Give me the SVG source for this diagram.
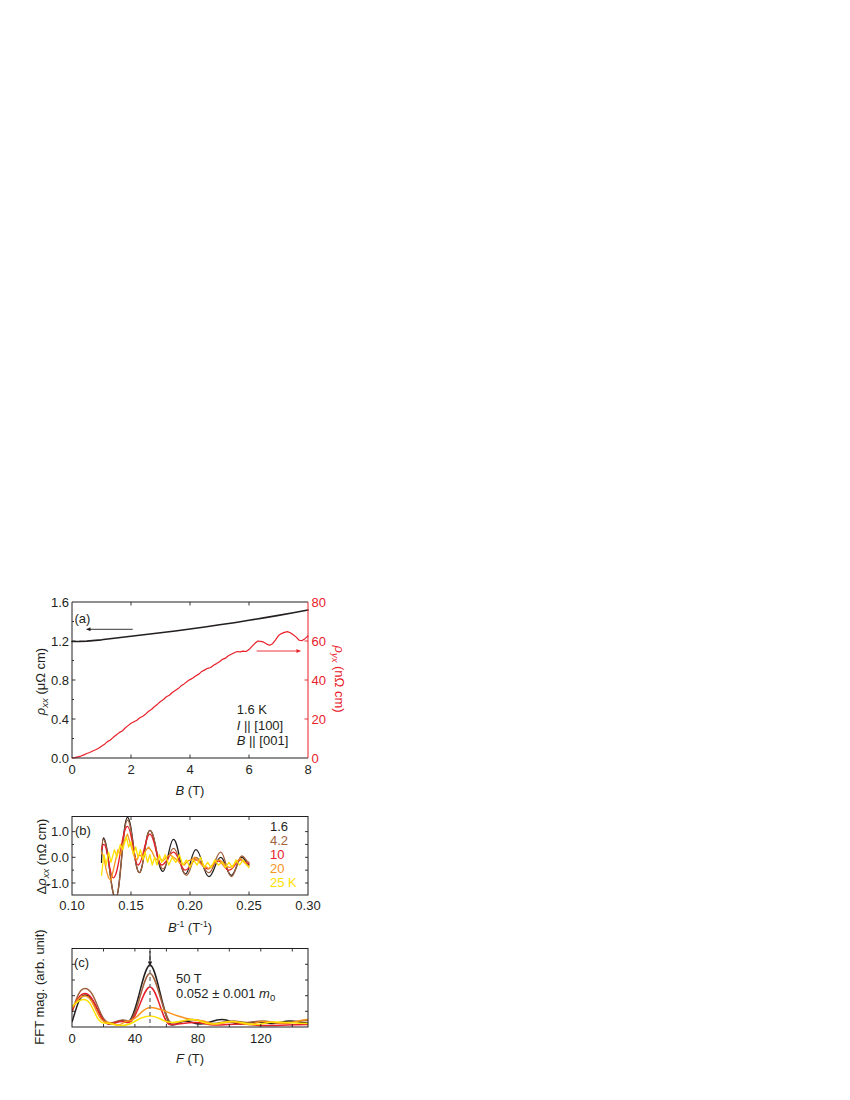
<svg xmlns="http://www.w3.org/2000/svg" width="850" height="1100" viewBox="0 0 850 1100">
<style>
text{font-family:"Liberation Sans",Arial,sans-serif;font-size:13px;fill:#231f20}
.red{fill:#e8202a}
.ax{fill:none;stroke:#231f20;stroke-width:1}
.axr{fill:none;stroke:#e8202a;stroke-width:1}
.tk{fill:none;stroke:#231f20;stroke-width:0.9}
.tkr{fill:none;stroke:#e8202a;stroke-width:0.9}
.d{fill:none;stroke-linejoin:round;stroke-linecap:round;vector-effect:non-scaling-stroke}
.c{fill:none;stroke-width:1.5;stroke-linejoin:round}
.it{font-style:italic}
.mid{text-anchor:middle}
.end{text-anchor:end}
</style>
<defs>
<marker id="ahk" viewBox="0 0 10 10" refX="10" refY="5" markerWidth="7" markerHeight="4" markerUnits="userSpaceOnUse" orient="auto"><path d="M0,0L10,5L0,10z" fill="#231f20"/></marker>
<marker id="ahr" viewBox="0 0 10 10" refX="10" refY="5" markerWidth="7" markerHeight="4" markerUnits="userSpaceOnUse" orient="auto"><path d="M0,0L10,5L0,10z" fill="#e8202a"/></marker>
<marker id="ahs" viewBox="0 0 10 10" refX="10" refY="5" markerWidth="6" markerHeight="4.5" markerUnits="userSpaceOnUse" orient="auto"><path d="M0,0L10,5L0,10z" fill="#231f20"/></marker>
<clipPath id="clipb"><rect x="72" y="816.5" width="236" height="78.5"/></clipPath>
<clipPath id="clipc"><rect x="72" y="948.5" width="236" height="78.5"/></clipPath>
</defs>

<g id="panel-a">
<g id="a-curves">
<polyline class="d" stroke="#231f20" stroke-width="1.6" transform="matrix(29.5 0 0 -97.5 72 758)" points="0,1.195 0.25,1.196 0.5,1.199 1,1.212 1.5,1.230 2,1.249 2.5,1.266 3,1.285 3.5,1.303 4,1.323 4.5,1.344 5,1.366 5.5,1.388 6,1.412 6.5,1.437 7,1.463 7.5,1.490 8,1.518"/>
<polyline class="d" stroke="#e8202a" stroke-width="1.2" transform="matrix(29.5 0 0 -1.95 72 758)" points="0,0 0.1,0.2 0.2,0.6 0.3,1.0 0.4,1.6 0.5,2.3 0.6,2.8 0.7,3.6 0.8,4.2 0.9,5.0 1.0,6.0 1.1,7.0 1.2,8.4 1.3,9.2 1.4,10.6 1.5,11.8 1.6,13.0 1.7,13.8 1.8,15.4 1.9,16.6 2.0,17.8 2.1,18.6 2.2,19.4 2.3,20.6 2.4,21.4 2.5,22.6 2.6,24.0 2.7,25.0 2.8,26.4 2.9,27.6 3.0,29.0 3.1,30.0 3.2,31.4 3.3,32.2 3.4,33.6 3.5,34.6 3.6,35.6 3.7,37.0 3.8,38.0 3.9,39.2 4.0,40.2 4.1,41.0 4.2,42.2 4.3,43.0 4.4,44.4 4.5,45.2 4.6,46.0 4.7,46.4 4.8,47.6 4.9,48.4 5.0,49.4 5.1,50.6 5.2,51.2 5.3,52.4 5.4,53.2 5.5,54.0 5.6,54.6 5.7,54.4 5.8,54.8 5.9,54.6 6.0,55.6 6.1,57.2 6.2,58.8 6.3,60.0 6.4,59.8 6.5,59.4 6.6,58.4 6.7,57.8 6.8,58.6 6.9,60.6 7.0,62.8 7.1,63.8 7.2,64.4 7.3,64.8 7.4,64.2 7.5,63.2 7.6,62.0 7.7,60.4 7.8,60.2 7.9,61.2 8.0,62.6"/>
</g>
<g id="a-axes">
<path class="ax" d="M308,602H72V758H308"/>
<path class="axr" d="M308,602V758"/>
<path class="tk" d="M72,719h3.5M72,680h3.5M72,641h3.5M72,738.5h2M72,699.5h2M72,660.5h2M72,621.5h2M131,758v-3.5M190,758v-3.5M249,758v-3.5M131,602v3.5M190,602v3.5M249,602v3.5"/>
<path class="tkr" d="M308,719h-3.5M308,680h-3.5M308,641h-3.5"/>
</g>
<g id="a-arrows">
<line x1="132.7" y1="629.3" x2="86.5" y2="629.3" stroke="#231f20" stroke-width="0.9" marker-end="url(#ahk)"/>
<line x1="256.7" y1="651" x2="300.5" y2="651" stroke="#e8202a" stroke-width="0.9" marker-end="url(#ahr)"/>
</g>
<g id="a-labels">
<text class="end" x="69" y="762.7">0.0</text>
<text class="end" x="69" y="723.7">0.4</text>
<text class="end" x="69" y="684.7">0.8</text>
<text class="end" x="69" y="645.7">1.2</text>
<text class="end" x="69" y="606.7">1.6</text>
<text class="red" x="311.5" y="762.7">0</text>
<text class="red" x="311.5" y="723.7">20</text>
<text class="red" x="311.5" y="684.7">40</text>
<text class="red" x="311.5" y="645.7">60</text>
<text class="red" x="311.5" y="606.7">80</text>
<text class="mid" x="72" y="774.3">0</text>
<text class="mid" x="131" y="774.3">2</text>
<text class="mid" x="190" y="774.3">4</text>
<text class="mid" x="249" y="774.3">6</text>
<text class="mid" x="308" y="774.3">8</text>
<text class="mid" x="190" y="794.5"><tspan class="it">B</tspan> (T)</text>
<text class="mid" transform="translate(44.5 681.5) rotate(-90)"><tspan class="it">ρ</tspan><tspan class="it" font-size="9.5" dy="3">xx</tspan><tspan dy="-3"> (μΩ cm)</tspan></text>
<text class="mid red" transform="translate(335 679) rotate(90)"><tspan class="it">ρ</tspan><tspan class="it" font-size="9.5" dy="3">yx</tspan><tspan dy="-3"> (nΩ cm)</tspan></text>
<text x="74.5" y="622.5">(a)</text>
<text x="236.7" y="714">1.6 K</text>
<text x="236.7" y="729.5"><tspan class="it">I</tspan> || [100]</text>
<text x="236.7" y="744.8"><tspan class="it">B</tspan> || [001]</text>
</g>
</g>

<g id="panel-b">
<g id="b-curves" clip-path="url(#clipb)">
<g transform="matrix(1180 0 0 -25.7 -46 857.3)">
<path class="d" stroke="#231f20" stroke-width="1.3" d="M0.125,-0.2C0.1255,0.4 0.1259,0.75 0.1265,0.75C0.1307,0.75 0.1328,-1.6 0.137,-1.6C0.141,-1.6 0.143,1.55 0.147,1.55C0.151,1.55 0.153,-0.6 0.157,-0.6C0.1606,-0.6 0.1624,1.05 0.166,1.05C0.1704,1.05 0.1726,-0.55 0.177,-0.55C0.1806,-0.55 0.1824,0.7 0.186,0.7C0.19,0.7 0.192,-0.65 0.196,-0.65C0.1996,-0.65 0.2014,0.3 0.205,0.3C0.2094,0.3 0.2116,-0.75 0.216,-0.75C0.22,-0.75 0.222,0 0.226,0C0.2296,0 0.2314,-0.7 0.235,-0.7C0.2386,-0.7 0.2404,0 0.244,0C0.2464,0 0.2476,-0.3 0.25,-0.3"/>
<path class="d" stroke="#a0603c" stroke-width="1.3" d="M0.125,0.2C0.1255,0.5 0.1259,0.7 0.1265,0.7C0.1307,0.7 0.1328,-1.6 0.137,-1.6C0.141,-1.6 0.143,1.45 0.147,1.45C0.151,1.45 0.153,-0.6 0.157,-0.6C0.1606,-0.6 0.1624,1.05 0.166,1.05C0.1704,1.05 0.1726,-0.45 0.177,-0.45C0.1806,-0.45 0.1824,0.35 0.186,0.35C0.1904,0.35 0.1926,-0.7 0.197,-0.7C0.2002,-0.7 0.2018,0 0.205,0C0.2094,0 0.2116,-0.6 0.216,-0.6C0.22,-0.6 0.222,0.2 0.226,0.2C0.2296,0.2 0.2314,-0.75 0.235,-0.75C0.2386,-0.75 0.2404,0.05 0.244,0.05C0.2464,0.05 0.2476,-0.2 0.25,-0.2"/>
<path class="d" stroke="#e8202a" stroke-width="1.3" d="M0.125,0.3C0.1258,0.45 0.1262,0.5 0.127,0.5C0.1302,0.5 0.1318,-0.8 0.135,-0.8C0.1398,-0.8 0.1422,1.2 0.147,1.2C0.1506,1.2 0.1524,-0.3 0.156,-0.3C0.16,-0.3 0.162,0.9 0.166,0.9C0.17,0.9 0.172,-0.3 0.176,-0.3C0.18,-0.3 0.182,0.2 0.186,0.2C0.19,0.2 0.192,-0.5 0.196,-0.5C0.1996,-0.5 0.2014,-0.1 0.205,-0.1C0.209,-0.1 0.211,-0.45 0.215,-0.45C0.2186,-0.45 0.2204,-0.15 0.224,-0.15C0.2276,-0.15 0.2294,-0.5 0.233,-0.5C0.237,-0.5 0.239,-0.1 0.243,-0.1C0.2458,-0.1 0.2472,-0.25 0.25,-0.25"/>
<polyline class="d" stroke="#f7941d" stroke-width="1.3" points="0.125,0.2 0.127,0.0 0.129,-0.5 0.131,-0.8 0.133,-0.9 0.135,-0.5 0.137,-0.1 0.139,0.3 0.141,0.1 0.143,0.5 0.145,0.7 0.147,0.9 0.149,0.6 0.151,0.3 0.153,0.0 0.155,-0.1 0.157,0.1 0.160,0.0 0.163,0.3 0.165,0.4 0.168,0.2 0.171,-0.1 0.174,0.0 0.177,-0.15 0.180,0.0 0.183,0.1 0.186,0.0 0.189,-0.1 0.192,-0.25 0.195,-0.3 0.198,-0.15 0.201,-0.1 0.204,0.0 0.207,-0.15 0.210,-0.3 0.213,-0.35 0.216,-0.45 0.219,-0.3 0.222,-0.15 0.225,-0.1 0.228,-0.2 0.231,-0.35 0.234,-0.4 0.237,-0.3 0.240,-0.15 0.243,-0.05 0.246,-0.2 0.250,-0.35"/>
<polyline class="d" stroke="#ffe100" stroke-width="1.3" points="0.125,-0.7 0.127,0.1 0.129,-0.3 0.131,0.2 0.133,-0.2 0.136,0.3 0.138,0.0 0.141,0.5 0.143,0.3 0.146,0.8 0.148,0.4 0.150,0.6 0.152,0.1 0.154,0.4 0.156,0.0 0.158,0.3 0.160,-0.1 0.162,0.2 0.164,-0.2 0.166,0.1 0.168,-0.3 0.170,0.0 0.172,-0.3 0.174,0.1 0.176,-0.2 0.179,0.1 0.182,-0.3 0.185,0.0 0.188,-0.2 0.191,0.1 0.194,-0.3 0.197,-0.1 0.200,-0.4 0.203,-0.1 0.206,-0.3 0.209,0.0 0.212,-0.4 0.215,-0.2 0.218,-0.4 0.221,-0.1 0.224,-0.3 0.227,-0.2 0.230,-0.4 0.233,-0.2 0.236,-0.4 0.239,-0.1 0.242,-0.3 0.245,-0.1 0.248,-0.3 0.250,-0.4"/>
</g>
</g>
<g id="b-axes">
<rect class="ax" x="72" y="816.5" width="236" height="78.5"/>
<path class="tk" d="M72,831.6h3.5M72,857.3h3.5M72,883h3.5M72,844.45h2M72,870.15h2M308,831.6h-3M308,857.3h-3M308,883h-3M308,844.45h-3M308,870.15h-3M131,895v-3.5M190,895v-3.5M249,895v-3.5M131,816.5v3.5M190,816.5v3.5M249,816.5v3.5"/>
</g>
<g id="b-labels">
<text class="end" x="69" y="836.3">1.0</text>
<text class="end" x="69" y="862">0.0</text>
<text class="end" x="69" y="887.7" font-size="12.5">-1.0</text>
<text class="mid" x="72" y="910">0.10</text>
<text class="mid" x="131" y="910">0.15</text>
<text class="mid" x="190" y="910">0.20</text>
<text class="mid" x="249" y="910">0.25</text>
<text class="mid" x="308" y="910">0.30</text>
<text class="mid" x="190" y="931.5"><tspan class="it">B</tspan><tspan font-size="8.5" dy="-5">-1</tspan><tspan dy="5"> (T</tspan><tspan font-size="8.5" dy="-5">-1</tspan><tspan dy="5">)</tspan></text>
<text class="mid" transform="translate(45.5 856.5) rotate(-90)">Δ<tspan class="it">ρ</tspan><tspan class="it" font-size="9.5" dy="3">xx</tspan><tspan dy="-3"> (nΩ cm)</tspan></text>
<text x="75" y="834.5">(b)</text>
<text x="270" y="830.7">1.6</text>
<text x="270" y="845" style="fill:#a0603c">4.2</text>
<text x="270" y="858.7" style="fill:#e8202a">10</text>
<text x="270" y="873.3" style="fill:#f7941d">20</text>
<text x="270" y="887.3" style="fill:#ffe100">25 K</text>
</g>
</g>

<g id="panel-c">
<g id="c-curves" clip-path="url(#clipc)">
<path class="c" stroke="#231f20" d="M72,1022C76,1010 79,995 85,995C96,995 99,1024 110,1024C115,1024 117,1020.5 122,1020.5C125,1020.5 125,1021.5 128,1021.5C136,1021.5 143,965 150,965C157,965 164,1025 172,1025C178,1025 180,1021 185,1021C191,1021 194,1024 200,1024C209,1024 213,1019.5 222,1019.5C230,1019.5 232,1024 240,1024C248,1024 249,1022 257,1022C264,1022 265,1023.5 272,1023.5C280,1023.5 282,1021 290,1021C298,1021 300,1023 308,1023"/>
<path class="c" stroke="#a0603c" d="M72,1012C76,1000 79,988.5 85,988.5C96,988.5 99,1023 110,1023C116,1023 117,1020 123,1020C126,1020 126,1021 129,1021C137,1021 143,973.5 150,973.5C157,973.5 164,1023 172,1023C181,1023 184,1019.5 193,1019.5C201,1019.5 204,1023.5 212,1023.5C221,1023.5 224,1021 233,1021C239,1021 241,1022.5 247,1022.5C253,1022.5 256,1021 262,1021C270,1021 272,1023 280,1023C292,1023 296,1020.5 308,1020.5"/>
<path class="c" stroke="#e8202a" d="M72,1011C76,1002 79,993.5 85,993.5C95,993.5 99,1024 109,1024C115,1024 116,1021.5 122,1021.5C125,1021.5 125,1022.5 128,1022.5C137,1022.5 143,987 150,987C157,987 163,1024.5 170,1024.5C181,1024.5 184,1022.5 195,1022.5C204,1022.5 206,1025 215,1025C226,1025 229,1024 240,1024C251,1024 254,1025.5 265,1025.5C284,1025.5 290,1024.5 308,1024.5"/>
<path class="c" stroke="#f7941d" d="M72,1008.5C76,1002 79,996 85,996C94,996 97,1022 106,1022C111,1022 113,1025 118,1025C122,1025 124,1021 128,1021C137,1021 142,1007.5 150,1007.5C160,1007.5 168,1013 178,1016C188,1019 195,1020.5 200,1020.5C206,1020.5 209,1024 215,1024C222,1024 225,1022 232,1022C240,1022 242,1024.5 250,1024.5C255,1024.5 257,1021.5 262,1021.5C271,1021.5 276,1023.5 285,1023.5C294,1023.5 299,1019.5 308,1019.5"/>
<path class="c" stroke="#ffe100" d="M72,1006.5C76,1003 79,999.5 84,999.5C93,999.5 95,1023 104,1023C112,1023 114,1025.5 122,1025.5C134,1025.5 138,1016 150,1016C159,1016 163,1022.5 172,1022.5C181,1022.5 183,1019.5 192,1019.5C201,1019.5 203,1024 212,1024C221,1024 223,1021.5 232,1021.5C242,1021.5 245,1024.5 255,1024.5C264,1024.5 266,1022 275,1022C290,1022 293,1023.5 308,1023.5"/>
</g>
<g id="c-marks">
<line x1="150" y1="949" x2="150" y2="1026.5" stroke="#6d6e71" stroke-width="1.3" stroke-dasharray="4 3"/>
<line x1="150" y1="951" x2="150" y2="966" stroke="#231f20" stroke-width="1.1" marker-end="url(#ahs)"/>
</g>
<g id="c-axes">
<rect class="ax" x="72" y="948.5" width="236" height="78.5"/>
<path class="tk" d="M72,964.3h3M72,980h3M72,995.7h3M72,1011.3h3M308,964.3h-3M308,980h-3M308,995.7h-3M308,1011.3h-3M103.5,1027v-3M134.9,1027v-3M166.4,1027v-3M197.9,1027v-3M229.3,1027v-3M260.8,1027v-3M292.3,1027v-3M103.5,948.5v3M134.9,948.5v3M166.4,948.5v3M197.9,948.5v3M229.3,948.5v3M260.8,948.5v3M292.3,948.5v3"/>
</g>
<g id="c-labels">
<text class="mid" x="72" y="1043">0</text>
<text class="mid" x="134.9" y="1043">40</text>
<text class="mid" x="197.9" y="1043">80</text>
<text class="mid" x="260.8" y="1043">120</text>
<text class="mid" x="190" y="1063.3"><tspan class="it">F</tspan> (T)</text>
<text class="mid" transform="translate(44 987) rotate(-90)">FFT mag. (arb. unit)</text>
<text x="74" y="966.5">(c)</text>
<text x="176" y="982.7">50 T</text>
<text x="176" y="998.3">0.052 ± 0.001 <tspan class="it">m</tspan><tspan font-size="9.5" dy="3">0</tspan></text>
</g>
</g>
</svg>
